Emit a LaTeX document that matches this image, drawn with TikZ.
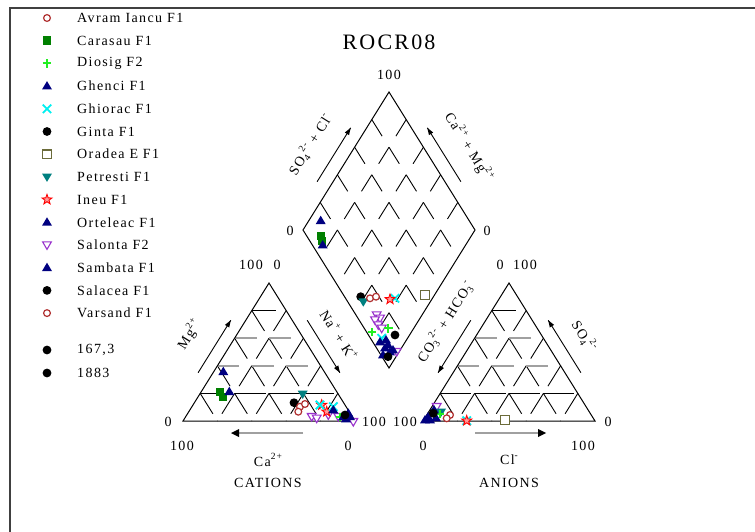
\documentclass[tikz,border=0pt]{standalone}
\usepackage{fontspec}
\setmainfont{Liberation Serif}[LetterSpace=10]
\usetikzlibrary{calc}
\newcommand\Up[1]{\raisebox{1.0ex}{\fontsize{9.5}{10}\selectfont #1}}
\newcommand\Dn[1]{\raisebox{-0.45ex}{\fontsize{9.5}{10}\selectfont #1}}
\definecolor{cRed}{HTML}{B03030}
\definecolor{cGreen}{HTML}{008000}
\definecolor{cLime}{HTML}{22EE22}
\definecolor{cNavy}{HTML}{000080}
\definecolor{cCyan}{HTML}{00F0F0}
\definecolor{cOlive}{HTML}{6B6B3A}
\definecolor{cTeal}{HTML}{008080}
\definecolor{cStar}{HTML}{FF0000}
\definecolor{cPurp}{HTML}{9932CC}
\definecolor{cGrid}{HTML}{A0A0A0}
\tikzset{
  txt/.style={inner sep=0pt, font=\fontsize{14}{16}\selectfont},
  outline/.style={line width=1pt, line join=miter},
  tgrid/.style={line width=0.9pt, dash pattern=on 24pt off 8.5pt},
  dgrid/.style={line width=0.9pt, dash pattern=on 19.5pt off 13pt},
  hdark/.style={line width=0.9pt, dash pattern=on 24pt off 10.4pt},
  hdark1/.style={line width=0.9pt, dash pattern=on 31pt off 3.4pt},
  hgray/.style={line width=1.8pt, cGrid, dash pattern=on 22pt off 12.4pt},
  axarrow/.style={line width=0.9pt},
  ocirc/.pic={\draw[cRed,line width=1.2pt,fill=white] (0pt,0pt) circle (3.4pt);},
  fsq/.pic={\fill[cGreen] (-4.2pt,-4.2pt) rectangle (4.2pt,4.2pt);},
  mplus/.pic={\draw[cLime,line width=2pt] (-4.2pt,0pt)--(4.2pt,0pt) (0pt,-4.2pt)--(0pt,4.2pt);},
  tri/.pic={\fill[cNavy] (0pt,5pt)--(5pt,-3.4pt)--(-5pt,-3.4pt)--cycle;},
  mcross/.pic={\draw[cCyan,line width=1.8pt] (-4.2pt,-4.2pt)--(4.2pt,4.2pt) (-4.2pt,4.2pt)--(4.2pt,-4.2pt);},
  mdot/.pic={\fill[black] (0pt,0pt) circle (4.4pt);},
  osq/.pic={\draw[cOlive,line width=1.3pt,fill=white] (-4.2pt,-4.2pt) rectangle (4.2pt,4.2pt);},
  trid/.pic={\fill[cTeal] (0pt,-5pt)--(5pt,3.4pt)--(-5pt,3.4pt)--cycle;},
  otrid/.pic={\draw[cPurp,line width=1.1pt,fill=white] (0pt,-4.4pt)--(4.4pt,3.2pt)--(-4.4pt,3.2pt)--cycle;},
  mstar/.pic={\draw[cStar,line width=0.9pt,fill=cStar!40] (90:5.2pt)--(126:2.1pt)--(162:5.2pt)--(198:2.1pt)--(234:5.2pt)--(270:2.1pt)--(306:5.2pt)--(342:2.1pt)--(18:5.2pt)--(54:2.1pt)--cycle;},
}
\begin{document}
\begin{tikzpicture}[x=1pt,y=-1pt]
\useasboundingbox (0,0) rectangle (755,532);
\fill[white] (0,0) rectangle (755,532);
% frame
\draw[line width=1.3pt, black!75] (10,532) -- (10,8) -- (755,8);

% ---------- geometry ----------
\coordinate (A1) at (183,421); \coordinate (B1) at (355,421); \coordinate (C1) at (269,283);
\coordinate (A2) at (423,421); \coordinate (B2) at (595,421); \coordinate (C2) at (509,283);
\coordinate (T) at (389,92); \coordinate (L) at (303,230); \coordinate (R) at (475,230); \coordinate (D) at (389,368);

% ---------- triangle grids ----------
\foreach \A/\B/\C in {A1/B1/C1, A2/B2/C2}{
  \foreach \k in {1,2,3,4}{
    \pgfmathsetmacro\t{\k/5}
    \draw[tgrid] ($(\C)!\t!(\B)$) -- ($(\A)!\t!(\B)$);
    \draw[tgrid] ($(\A)!\t!(\C)$) -- ($(\A)!\t!(\B)$);
  }
  \draw[hdark1] ($(\A)!0.2!(\C)$) -- ($(\B)!0.2!(\C)$);
  \draw[hgray]  ($(\A)!0.4!(\C)$) -- ($(\B)!0.4!(\C)$);
  \draw[hgray]  ($(\A)!0.6!(\C)$) -- ($(\B)!0.6!(\C)$);
  \draw[hdark]  ($(\A)!0.8!(\C)$) -- ($(\B)!0.8!(\C)$);
  \draw[outline] (\A) -- (\B) -- (\C) -- cycle;
}
% ---------- diamond grid ----------
\foreach \k in {1,2,3,4}{
  \pgfmathsetmacro\t{\k/5}
  \draw[dgrid] ($(T)!\t!(R)$) -- ($(L)!\t!(D)$);
  \draw[dgrid] ($(T)!\t!(L)$) -- ($(R)!\t!(D)$);
}
\draw[outline] (T) -- (R) -- (D) -- (L) -- cycle;

% ---------- axis arrows ----------
\draw[axarrow] ($(C1)!0.65!(A1)+(-15,0)$) coordinate (a1s) -- ($(C1)!0.27!(A1)+(-15,0)$) coordinate (a1e);
\fill ($(a1e)$) -- ($(a1e)!7pt!(a1s)!2.5pt!90:(a1s)$) -- ($(a1e)!7pt!(a1s)!2.5pt!-90:(a1s)$) -- cycle;
\draw[axarrow] ($(C1)!0.27!(B1)+(15,0)$) coordinate (a2s) -- ($(C1)!0.65!(B1)+(15,0)$) coordinate (a2e);
\fill ($(a2e)$) -- ($(a2e)!7pt!(a2s)!2.5pt!90:(a2s)$) -- ($(a2e)!7pt!(a2s)!2.5pt!-90:(a2s)$) -- cycle;
\draw[axarrow] ($(C2)!0.27!(A2)+(-15,0)$) coordinate (a3s) -- ($(C2)!0.65!(A2)+(-15,0)$) coordinate (a3e);
\fill ($(a3e)$) -- ($(a3e)!7pt!(a3s)!2.5pt!90:(a3s)$) -- ($(a3e)!7pt!(a3s)!2.5pt!-90:(a3s)$) -- cycle;
\draw[axarrow] ($(C2)!0.65!(B2)+(16,0)$) coordinate (a4s) -- ($(C2)!0.27!(B2)+(16,0)$) coordinate (a4e);
\fill ($(a4e)$) -- ($(a4e)!7pt!(a4s)!2.5pt!90:(a4s)$) -- ($(a4e)!7pt!(a4s)!2.5pt!-90:(a4s)$) -- cycle;
\draw[axarrow] ($(T)!0.65!(L)+(-16,0)$) coordinate (a5s) -- ($(T)!0.26!(L)+(-16,0)$) coordinate (a5e);
\fill ($(a5e)$) -- ($(a5e)!7pt!(a5s)!2.5pt!90:(a5s)$) -- ($(a5e)!7pt!(a5s)!2.5pt!-90:(a5s)$) -- cycle;
\draw[axarrow] ($(T)!0.65!(R)+(16,0)$) coordinate (a6s) -- ($(T)!0.26!(R)+(16,0)$) coordinate (a6e);
\fill ($(a6e)$) -- ($(a6e)!7pt!(a6s)!2.5pt!90:(a6s)$) -- ($(a6e)!7pt!(a6s)!2.5pt!-90:(a6s)$) -- cycle;
% gray base arrows
\coordinate (g1s) at (303,433); \coordinate (g1e) at (231,433);
\draw[line width=2pt, cGrid] (g1s) -- (238,433);
\fill (g1e) -- (239,429) -- (239,437) -- cycle;
\coordinate (g2s) at (475,433); \coordinate (g2e) at (546,433);
\draw[line width=2pt, cGrid] (g2s) -- (539,433);
\fill (g2e) -- (538,429) -- (538,437) -- cycle;

% ---------- labels ----------
\node[txt, font=\fontsize{22}{24}\selectfont] (title) at (389,42) {ROCR08};
\node[txt] (n1) at (389,75) {100};
\node[txt] (n2) at (290,231) {0};
\node[txt] (n3) at (487,231) {0};
\node[txt] (n4) at (251,265) {100};
\node[txt] (n5) at (277,265) {0};
\node[txt] (n6) at (500,265) {0};
\node[txt] (n7) at (525,265) {100};
\node[txt] (n8) at (168,422) {0};
\node[txt] (n9) at (374,422) {100};
\node[txt] (n10) at (405,422) {100};
\node[txt] (n11) at (608,422) {0};
\node[txt] (n12) at (182,446) {100};
\node[txt] (n13) at (348,446) {0};
\node[txt] (n14) at (423,446) {0};
\node[txt] (n15) at (583,446) {100};
\node[txt] (ca) at (268,460) {Ca\Up{2+}};
\node[txt] (cat) at (268,483) {CATIONS};
\node[txt] (cl) at (509,460) {Cl\Up{-}};
\node[txt] (an) at (509,483) {ANIONS};
\node[txt, rotate=58] (so4cl) at (310,145) {SO\Dn{4}\Up{2-} + Cl\Up{-}};
\node[txt, rotate=-58] (camg) at (469,147) {Ca\Up{2+} + Mg\Up{2+}};
\node[txt, rotate=58] (mg) at (189,334) {Mg\Up{2+}};
\node[txt, rotate=-58] (nak) at (339,335) {Na\Up{+} + K\Up{+}};
\node[txt, rotate=58] (co3) at (445,322) {CO\Dn{3}\Up{2-} + HCO\Dn{3}\Up{-}};
\node[txt, rotate=-58] (so4) at (584,336) {SO\Dn{4}\Up{2-}};

% ---------- legend ----------
\foreach \y/\m/\s in {18/ocirc/Avram Iancu F1, 40.7/fsq/Carasau F1, 63.4/mplus/Diosig F2,
  86.1/tri/Ghenci F1, 108.8/mcross/Ghiorac F1, 131.5/mdot/Ginta F1, 154.2/osq/Oradea E F1,
  176.9/trid/Petresti F1, 199.6/mstar/Ineu F1, 222.3/tri/Orteleac F1, 245/otrid/Salonta F2,
  267.7/tri/Sambata F1, 290.4/mdot/Salacea F1, 313.1/ocirc/Varsand F1, 350/mdot/{167,3}, 373/mdot/1883}{
  \pic at (47,\y) {\m};
  \node[txt, anchor=west] at (77,\y) {\s};
}

% ---------- data: cations ----------
\foreach \p in {(220,392),(223,397)} \pic at \p {fsq};
\foreach \p in {(302.7,394)} \pic at \p {trid};
\foreach \p in {(294,402.7)} \pic at \p {mdot};
\foreach \p in {(300,406.7),(305,404),(298.3,411.7)} \pic at \p {ocirc};
\foreach \p in {(311.7,416.7),(316.7,418.3),(328.3,415),(338.3,416.7),(353.3,421.7)} \pic at \p {otrid};
\foreach \p in {(321.7,405),(326.7,411.7)} \pic at \p {mstar};
\foreach \p in {(320,405),(333.3,406.7)} \pic at \p {mcross};
\foreach \p in {(340,416.7)} \pic at \p {mplus};
\foreach \p in {(223.3,371.7),(229.3,391.7),(333.3,410),(343.3,416.7),(348.3,413.3),(350,416.7),(346,419)} \pic at \p {tri};
\foreach \p in {(345,415)} \pic at \p {mdot};

% ---------- data: anions ----------
\foreach \p in {(450,415),(446.7,418.3)} \pic at \p {ocirc};
\foreach \p in {(436.7,406.7)} \pic at \p {otrid};
\foreach \p in {(441,412)} \pic at \p {trid};
\foreach \p in {(440,414)} \pic at \p {mplus};
\foreach \p in {(428,417),(432,413),(436,418),(430,420),(425,420),(434,410)} \pic at \p {tri};
\foreach \p in {(433.3,413.3)} \pic at \p {mdot};
\foreach \p in {(466.7,420.7)} \pic at \p {mcross};
\foreach \p in {(466.7,420.7)} \pic at \p {mstar};
\foreach \p in {(505,420)} \pic at \p {osq};

% ---------- data: diamond ----------
\foreach \p in {(321,236),(322,241)} \pic at \p {fsq};
\foreach \p in {(320.7,220.7),(322.7,245)} \pic at \p {tri};
\foreach \p in {(360.7,296.7)} \pic at \p {mdot};
\foreach \p in {(363.3,301.7)} \pic at \p {trid};
\foreach \p in {(370,298.3),(376,296.7)} \pic at \p {ocirc};
\foreach \p in {(395,298.3)} \pic at \p {mcross};
\foreach \p in {(390,299.3)} \pic at \p {mstar};
\foreach \p in {(425,295)} \pic at \p {osq};
\foreach \p in {(376.7,315),(380,318.3),(375,320),(378.3,325),(381.7,328.3),(396.7,351.7)} \pic at \p {otrid};
\foreach \p in {(371.7,331.7),(388.3,328.3)} \pic at \p {mplus};
\foreach \p in {(395,335)} \pic at \p {mdot};
\foreach \p in {(381.7,338.3)} \pic at \p {mcross};
\foreach \p in {(380,342),(385,348),(390,352),(383,355),(388,345),(393,350),(386,340)} \pic at \p {tri};
\foreach \p in {(388,356.7)} \pic at \p {mdot};
\end{tikzpicture}
\end{document}
